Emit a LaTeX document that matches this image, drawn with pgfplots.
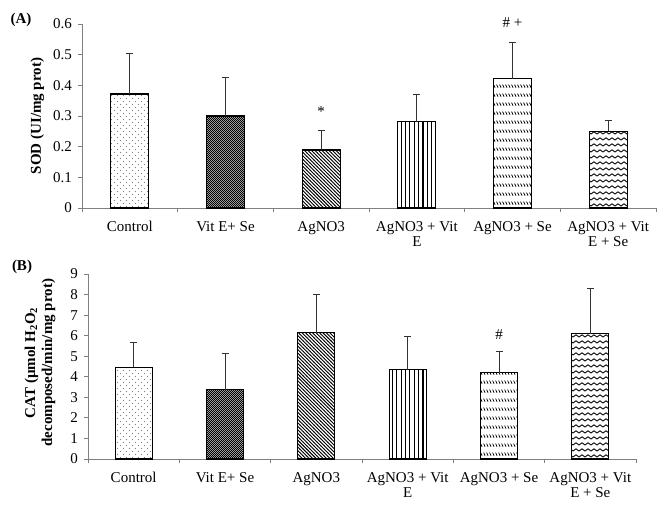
\documentclass[border=0pt]{standalone}
\usepackage{fontspec}
\setmainfont{Liberation Serif}
\usepackage{pgfplots}
\pgfplotsset{compat=1.18}
\usetikzlibrary{patterns}

\pgfdeclarepatternformonly{mydots}{\pgfqpoint{0pt}{0pt}}{\pgfqpoint{6pt}{6pt}}{\pgfqpoint{6pt}{6pt}}{%
  \pgfpathcircle{\pgfqpoint{1.5pt}{1.5pt}}{0.6pt}%
  \pgfpathcircle{\pgfqpoint{4.5pt}{4.5pt}}{0.6pt}%
  \pgfusepath{fill}}
\pgfdeclarepatternformonly{checker}{\pgfqpoint{0pt}{0pt}}{\pgfqpoint{2pt}{2pt}}{\pgfqpoint{2pt}{2pt}}{%
  \pgfpathrectangle{\pgfqpoint{0pt}{0pt}}{\pgfqpoint{1pt}{1pt}}%
  \pgfpathrectangle{\pgfqpoint{1pt}{1pt}}{\pgfqpoint{1pt}{1pt}}%
  \pgfusepath{fill}}
\pgfdeclarepatternformonly{nwlines}{\pgfqpoint{-1pt}{-1pt}}{\pgfqpoint{4.5pt}{4.5pt}}{\pgfqpoint{3.5pt}{3.5pt}}{%
  \pgfsetlinewidth{0.9pt}%
  \pgfpathmoveto{\pgfqpoint{-0.2pt}{3.7pt}}%
  \pgfpathlineto{\pgfqpoint{3.7pt}{-0.2pt}}%
  \pgfusepath{stroke}}
\pgfdeclarepatternformonly{vlines}{\pgfqpoint{0pt}{-1pt}}{\pgfqpoint{4.4pt}{2pt}}{\pgfqpoint{4.4pt}{1pt}}{%
  \pgfsetlinewidth{1.1pt}%
  \pgfpathmoveto{\pgfqpoint{2.2pt}{-1pt}}%
  \pgfpathlineto{\pgfqpoint{2.2pt}{2pt}}%
  \pgfusepath{stroke}}
\pgfdeclarepatternformonly{slashrows}{\pgfqpoint{0pt}{0pt}}{\pgfqpoint{3.3pt}{8.7pt}}{\pgfqpoint{3.3pt}{8.7pt}}{%
  \pgfsetlinewidth{0.85pt}%
  \pgfpathmoveto{\pgfqpoint{0.7pt}{7.7pt}}%
  \pgfpathlineto{\pgfqpoint{2.5pt}{4.5pt}}%
  \pgfusepath{stroke}}
\pgfdeclarepatternformonly{waves}{\pgfqpoint{0pt}{0pt}}{\pgfqpoint{6pt}{6pt}}{\pgfqpoint{6pt}{6pt}}{%
  \pgfsetlinewidth{0.9pt}%
  \pgfpathmoveto{\pgfqpoint{0pt}{2pt}}%
  \pgfpathcurveto{\pgfqpoint{1pt}{2pt}}{\pgfqpoint{2pt}{4.2pt}}{\pgfqpoint{3pt}{4.2pt}}%
  \pgfpathcurveto{\pgfqpoint{4pt}{4.2pt}}{\pgfqpoint{5pt}{2pt}}{\pgfqpoint{6pt}{2pt}}%
  \pgfusepath{stroke}}

\pgfplotsset{
  mybars/.style={
    scale only axis,
    axis lines=left,
    axis line style={-, draw=gray, line width=0.8bp},
    xmin=-0.5, xmax=5.5,
    ymin=0,
    xtick={-0.5,0.5,1.5,2.5,3.5,4.5,5.5},
    xticklabels={},
    extra x ticks={0,1,2,3,4,5},
    extra x tick labels={Control, Vit E+ Se, AgNO3, AgNO3 + Vit\\E, AgNO3 + Se, AgNO3 + Vit\\E + Se},
    extra x tick style={major tick length=0pt},
    xticklabel style={align=center, font=\fontsize{15bp}{15bp}\selectfont, inner sep=1bp, yshift=-12bp},
    yticklabel style={font=\fontsize{15bp}{17bp}\selectfont, inner sep=1bp, xshift=-5bp},
    tick align=outside,
    major tick length=4bp,
    tick style={draw=gray, line width=0.8bp},
    ylabel style={font=\bfseries\fontsize{15bp}{17bp}\selectfont, align=center},
    clip=false,
  },
  bar/.style={ybar, bar shift=0pt, draw=black, line width=1.2bp,
    error bars/y dir=plus, error bars/y explicit,
    error bars/error bar style={line width=1bp, draw=black!80},
    error bars/error mark options={rotate=90, mark size=3.5bp, line width=1bp, draw=black!80}},
}

\begin{document}
\begin{tikzpicture}
\path[use as bounding box] (0,0) rectangle (669bp,-512bp);
\node[font=\bfseries\fontsize{15bp}{17bp}\selectfont] at (21bp,-20bp) {(A)};
\node[font=\bfseries\fontsize{15bp}{17bp}\selectfont] at (22bp,-267bp) {(B)};

\begin{axis}[mybars,
  at={(82bp,-208bp)}, anchor=south west,
  width=574bp, height=184bp,
  ymax=0.6,
  ytick={0,0.1,0.2,0.3,0.4,0.5,0.6},
  yticklabels={0,0.1,0.2,0.3,0.4,0.5,0.6},
  ylabel={SOD (UI/mg prot)},
  ylabel style={at={(axis description cs:-0.078,0.5)}, anchor=center},
  bar width=38bp,
]
\addplot[bar, pattern=mydots, pattern color=gray] coordinates {(0,0.372) +- (0,0.131)};
\addplot[bar, fill=black!30, postaction={pattern=checker, pattern color=black}] coordinates {(1,0.300) +- (0,0.124)};
\addplot[bar, pattern=nwlines, pattern color=black] coordinates {(2,0.189) +- (0,0.063)};
\addplot[bar, pattern=vlines, pattern color=black] coordinates {(3,0.281) +- (0,0.090)};
\addplot[bar, pattern=slashrows, pattern color=black] coordinates {(4,0.422) +- (0,0.119)};
\addplot[bar, pattern=waves, pattern color=black] coordinates {(5,0.250) +- (0,0.035)};
\node[font=\fontsize{15bp}{17bp}\selectfont] at (axis cs:2,0.315) {*};
\node[font=\fontsize{15bp}{17bp}\selectfont] at (axis cs:4,0.603) {\# +};
\end{axis}

\begin{axis}[mybars,
  at={(88bp,-459bp)}, anchor=south west,
  width=548bp, height=185bp,
  ymax=9,
  ytick={0,1,2,3,4,5,6,7,8,9},
  yticklabels={0,1,2,3,4,5,6,7,8,9},
  ylabel={CAT (µmol H\textsubscript{2}O\textsubscript{2}\\decomposed/min/mg prot)},
  ylabel style={at={(axis description cs:-0.0876,0.52)}, anchor=center},
  bar width=37bp,
]
\addplot[bar, pattern=mydots, pattern color=gray] coordinates {(0,4.46) +- (0,1.21)};
\addplot[bar, fill=black!30, postaction={pattern=checker, pattern color=black}] coordinates {(1,3.37) +- (0,1.75)};
\addplot[bar, pattern=nwlines, pattern color=black] coordinates {(2,6.15) +- (0,1.85)};
\addplot[bar, pattern=vlines, pattern color=black] coordinates {(3,4.34) +- (0,1.64)};
\addplot[bar, pattern=slashrows, pattern color=black] coordinates {(4,4.20) +- (0,1.04)};
\addplot[bar, pattern=waves, pattern color=black] coordinates {(5,6.10) +- (0,2.18)};
\node[font=\fontsize{15bp}{17bp}\selectfont] at (axis cs:4,6.05) {\#};
\end{axis}
\end{tikzpicture}
\end{document}
